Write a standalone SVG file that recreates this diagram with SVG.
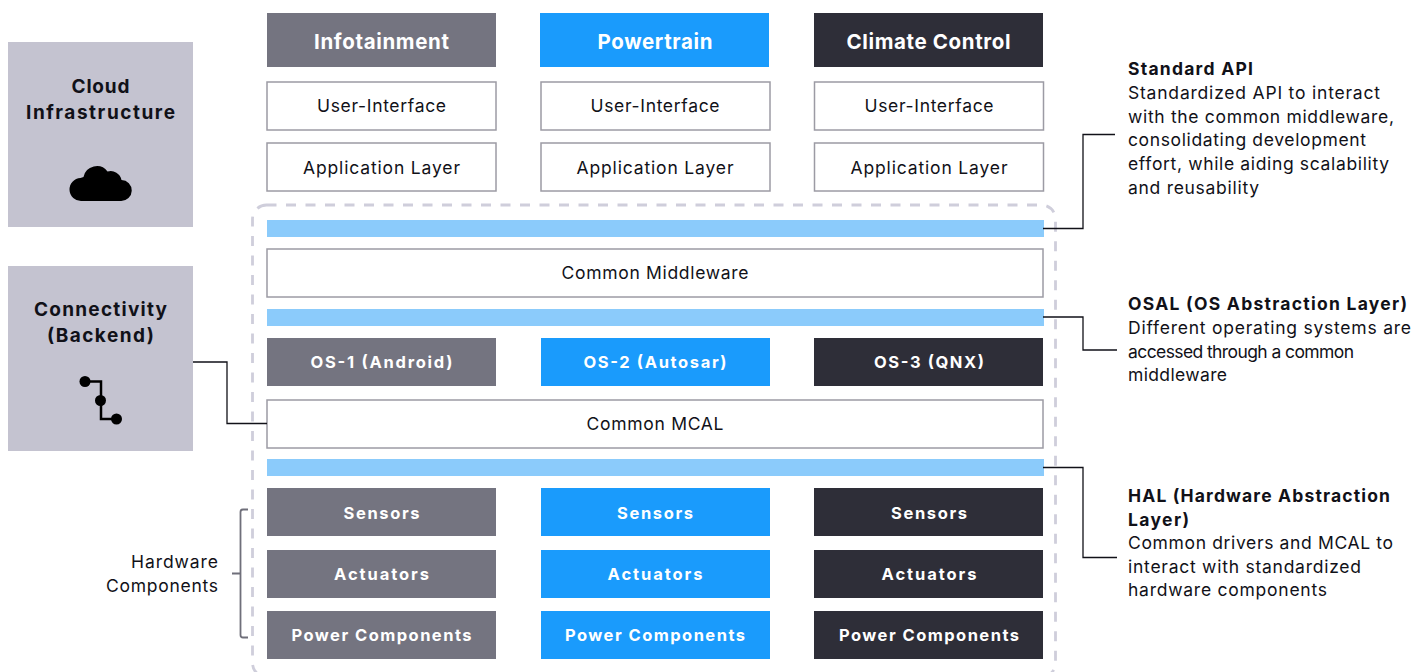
<svg xmlns="http://www.w3.org/2000/svg" width="1428" height="672" viewBox="0 0 1428 672">
<style>
text{font-family:Inter,"Noto Sans","Liberation Sans",sans-serif;fill:#111118}
.c{text-anchor:middle}
.r{text-anchor:end}
.b{font-weight:700}
.h{font-size:20.5px;font-weight:700;fill:#fff;text-anchor:middle}
.n{font-size:17.5px;text-anchor:middle}
.s{font-size:16.5px;font-weight:700;fill:#fff;text-anchor:middle}
.p{font-size:19px;font-weight:700;text-anchor:middle}
.t{font-size:17.500px}
.o{fill:#fff;stroke:#9c9ba4;stroke-width:1.5}
.g{fill:#747480}.u{fill:#1a9bfc}.d{fill:#2e2e38}.l{fill:#8bcbfb}.a{fill:#c4c3d0}
.k{fill:none;stroke:#111118;stroke-width:1.3}
</style>
<rect x="252.500" y="205" width="803" height="472" rx="14" fill="none" stroke="#cfcedb" stroke-width="2.800" stroke-dasharray="10 9.500"/>
<g id="cloud"><rect class="a" x="8" y="42" width="185" height="185"/><text class="p" x="100.500" y="93" textLength="58">Cloud</text><text class="p" x="100.500" y="119" textLength="149">Infrastructure</text><path fill="#000" d="M81.500 201a11.500 11.500 0 0 1-1-23a14 14 0 0 1 3-1a13.500 13.500 0 0 1 24-5.500a11 11 0 0 1 14 8.500a10.500 10.500 0 0 1-.5 21z"/></g>
<g id="connectivity"><rect class="a" x="8" y="266" width="185" height="185"/><text class="p" x="100.500" y="316" textLength="133">Connectivity</text><text class="p" x="100.500" y="342" textLength="107">(Backend)</text><path fill="none" stroke="#000" stroke-width="2.500" d="M85 381.500H101V419H116"/><circle cx="85" cy="381.500" r="5.500"/><circle cx="100.500" cy="400.500" r="5.500"/><circle cx="116.500" cy="419" r="5.500"/></g>
<g id="infotainment"><rect class="g" x="267" y="13" width="229" height="54"/><text class="h" x="381.500" y="49" textLength="135">Infotainment</text></g>
<g id="powertrain"><rect class="u" x="540" y="13" width="229" height="54"/><text class="h" x="655" y="49" textLength="115">Powertrain</text></g>
<g id="climate"><rect class="d" x="814" y="13" width="229" height="54"/><text class="h" x="928.500" y="49" textLength="164">Climate Control</text></g>
<g id="ui1"><rect class="o" x="267" y="82" width="229" height="48"/><text class="n" x="381.500" y="112" textLength="129">User-Interface</text></g>
<g id="ui2"><rect class="o" x="541" y="82" width="229" height="48"/><text class="n" x="655" y="112" textLength="129">User-Interface</text></g>
<g id="ui3"><rect class="o" x="814.500" y="82" width="229" height="48"/><text class="n" x="929" y="112" textLength="129">User-Interface</text></g>
<g id="app1"><rect class="o" x="267" y="143" width="229" height="48"/><text class="n" x="381.500" y="174" textLength="157">Application Layer</text></g>
<g id="app2"><rect class="o" x="541" y="143" width="229" height="48"/><text class="n" x="655" y="174" textLength="157">Application Layer</text></g>
<g id="app3"><rect class="o" x="814.500" y="143" width="229" height="48"/><text class="n" x="929" y="174" textLength="157">Application Layer</text></g>
<g id="bar1"><rect class="l" x="267" y="220" width="777" height="17"/></g>
<g id="middleware"><rect class="o" x="267" y="249" width="776" height="48"/><text class="n" x="655" y="279" textLength="187">Common Middleware</text></g>
<g id="bar2"><rect class="l" x="267" y="309" width="777" height="17"/></g>
<g id="os1"><rect class="g" x="267" y="338" width="229" height="48"/><text class="s" x="381.500" y="368" textLength="142">OS-1 (Android)</text></g>
<g id="os2"><rect class="u" x="541" y="338" width="229" height="48"/><text class="s" x="655" y="368" textLength="143">OS-2 (Autosar)</text></g>
<g id="os3"><rect class="d" x="814" y="338" width="229" height="48"/><text class="s" x="929" y="368" textLength="110">OS-3 (QNX)</text></g>
<g id="mcal"><rect class="o" x="267" y="400" width="776" height="48"/><text class="n" x="655" y="430" textLength="137">Common MCAL</text></g>
<g id="bar3"><rect class="l" x="267" y="459" width="777" height="17"/></g>
<g id="sensors1"><rect class="g" x="267" y="488" width="229" height="48"/><text class="s" x="381.500" y="518.500" textLength="76">Sensors</text></g>
<g id="sensors2"><rect class="u" x="541" y="488" width="229" height="48"/><text class="s" x="655" y="518.500" textLength="76">Sensors</text></g>
<g id="sensors3"><rect class="d" x="814" y="488" width="229" height="48"/><text class="s" x="929" y="518.500" textLength="76">Sensors</text></g>
<g id="actuators1"><rect class="g" x="267" y="550" width="229" height="48"/><text class="s" x="381.500" y="580" textLength="95">Actuators</text></g>
<g id="actuators2"><rect class="u" x="541" y="550" width="229" height="48"/><text class="s" x="655" y="580" textLength="95">Actuators</text></g>
<g id="actuators3"><rect class="d" x="814" y="550" width="229" height="48"/><text class="s" x="929" y="580" textLength="95">Actuators</text></g>
<g id="power1"><rect class="g" x="267" y="611" width="229" height="48"/><text class="s" x="381.500" y="641" textLength="180">Power Components</text></g>
<g id="power2"><rect class="u" x="541" y="611" width="229" height="48"/><text class="s" x="655" y="641" textLength="180">Power Components</text></g>
<g id="power3"><rect class="d" x="814" y="611" width="229" height="48"/><text class="s" x="929" y="641" textLength="180">Power Components</text></g>
<g id="hardware-label"><text class="t r" x="218" y="568" textLength="87">Hardware</text><text class="t r" x="218" y="592" textLength="112">Components</text><path fill="none" stroke="#6f6f7a" stroke-width="1.800" d="M248 509.500H243q-2.500 0-2.500 2.500V635q0 2.500 2.500 2.500H248M232 573.500H240"/></g>
<g id="notes">
<text class="t b" x="1128" y="75" textLength="125">Standard API</text>
<text class="t" x="1128" y="99" textLength="252">Standardized API to interact</text>
<text class="t" x="1128" y="122.500" textLength="266">with the common middleware,</text>
<text class="t" x="1128" y="146" textLength="238">consolidating development</text>
<text class="t" x="1128" y="170" textLength="261">effort, while aiding scalability</text>
<text class="t" x="1128" y="194" textLength="131">and reusability</text>
<text class="t b" x="1128" y="310" textLength="279">OSAL (OS Abstraction Layer)</text>
<text class="t" x="1128" y="334" textLength="283">Different operating systems are</text>
<text class="t" x="1128" y="358" textLength="226">accessed through a common</text>
<text class="t" x="1128" y="381" textLength="99">middleware</text>
<text class="t b" x="1128" y="502" textLength="262">HAL (Hardware Abstraction</text>
<text class="t b" x="1128" y="526" textLength="61">Layer)</text>
<text class="t" x="1128" y="549" textLength="265">Common drivers and MCAL to</text>
<text class="t" x="1128" y="573" textLength="233">interact with standardized</text>
<text class="t" x="1128" y="596" textLength="199">hardware components</text>
</g>
<g id="connectors">
<path class="k" d="M193 362H227V423.500H267"/>
<path class="k" d="M1043 228.500H1083V134.500H1115"/>
<path class="k" d="M1043 317H1083V350H1117"/>
<path class="k" d="M1043 467.500H1083V557.500H1117"/>
</g>
</svg>
